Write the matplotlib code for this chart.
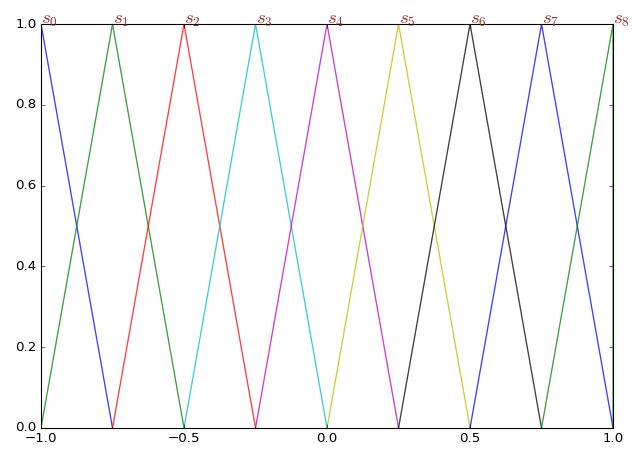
import numpy as np
import matplotlib
matplotlib.use("Agg")
import matplotlib.pyplot as plt

plt.style.use("classic")
plt.rcParams["mathtext.fontset"] = "cm"

# peak positions of the triangular membership functions
centers = [-1.0, -0.75, -0.5, -0.25, 0.0, 0.25, 0.5, 0.75, 1.0]
labels = ["$s_0$", "$s_1$", "$s_2$", "$s_3$", "$s_4$", "$s_5$", "$s_6$", "$s_7$", "$s_8$"]
colors = ["b", "g", "r", "c", "m", "y", "k", "b", "g"]
step = 0.25

fig = plt.figure(figsize=(7.9, 5.6125), dpi=80)
ax = fig.add_axes([0.0649, 0.0468, 0.9051, 0.8997])

for c, lab, col in zip(centers, labels, colors):
    xs = [c - step, c, c + step]
    ys = [0.0, 1.0, 0.0]
    if c - step < -1.0:
        xs = [-1.0, -1.0, c + step]
    if c + step > 1.0:
        xs = [c - step, 1.0, 1.0]
    ax.plot(xs, ys, color=col, alpha=0.75, lw=1.2)
    ax.text(c, 1.0, lab, color="brown", fontsize=17, ha="left", va="baseline")

ax.set_xlim(-1.0, 1.0)
ax.set_ylim(0.0, 1.0)
ax.set_xticks([-1.0, -0.5, 0.0, 0.5, 1.0])
ax.set_yticks([0.0, 0.2, 0.4, 0.6, 0.8, 1.0])

fig.savefig("out.png", dpi=80)
